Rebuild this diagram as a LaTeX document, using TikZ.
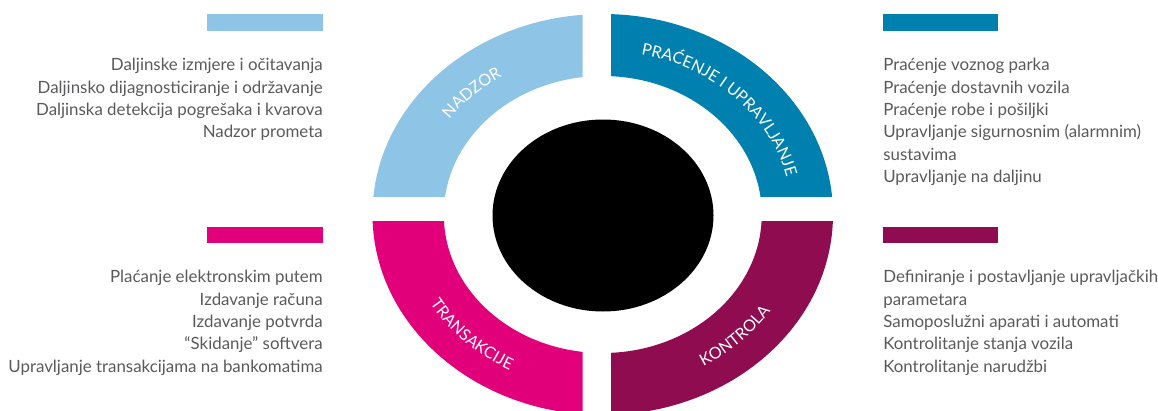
\documentclass[tikz,border=0pt]{standalone}
\usepackage{fontspec}
\setmainfont{Lato}
\usepackage{tikz}
\usetikzlibrary{decorations.text}
\definecolor{nadzorcolour}{HTML}{8EC5E6}
\definecolor{pracenjecolour}{HTML}{0080AF}
\definecolor{transakcijecolour}{HTML}{E2007A}
\definecolor{kontrolacolour}{HTML}{8E0C4F}
\definecolor{listcolour}{HTML}{5A5A5C}
% ring geometry (picture units = pixels)
\newcommand\ringx{602.75}
\newcommand\ringy{195.5}
\newcommand\outrx{230.25}
\newcommand\outry{200.5}
\newcommand\inrx{159}
\newcommand\inry{138.5}
\newcommand\gapleft{582.7}
\newcommand\gapright{611}
\newcommand\gapbottom{188.5}
\newcommand\gaptop{214}
\newcommand\listsep{22.4}
\newcommand\listfont{\fontsize{12}{14}\selectfont}
\newcommand\arcfont{\fontsize{11.5}{14}\selectfont}
\newcommand\quadrant[5]{%
  \begin{scope}
    \clip (#2,#3) rectangle (#4,#5);
    \fill[#1, even odd rule] (\ringx,\ringy) ellipse [x radius=\outrx, y radius=\outry]
      (\ringx,\ringy) ellipse [x radius=\inrx, y radius=\inry];
  \end{scope}}
\newcommand\arctext[5]{%
  \path[decorate, decoration={text along path, text align=center, text color=white,
      text={|\arcfont|#1}}]
    (\ringx,\ringy) ++(#2:#4 and #5) arc[start angle=#2, end angle=#3, x radius=#4, y radius=#5];}
\tikzset{
  listline/.style={font=\listfont, text=listcolour, inner sep=0pt, outer sep=0pt},
  legendbar/.style={inner sep=0pt, outer sep=0pt}
}

\begin{document}
\begin{tikzpicture}[x=0.025cm,y=0.025cm]
  \useasboundingbox (0,0) rectangle (1158,410);
  \clip (0,0) rectangle (1158,410);
  % ring quadrants
  \quadrant{nadzorcolour}{0}{\gaptop}{\gapleft}{410}
  \quadrant{pracenjecolour}{\gapright}{\gaptop}{1158}{410}
  \quadrant{transakcijecolour}{0}{0}{\gapleft}{\gapbottom}
  \quadrant{kontrolacolour}{\gapright}{0}{1158}{\gapbottom}
  % centre
  \fill (603,194.5) ellipse [x radius=110.5, y radius=96];
  % quadrant titles
  \arctext{NADZOR}{178}{92}{188.6}{163.5}
  \arctext{PRAĆENJE I UPRAVLJANJE}{88}{2}{188.6}{163.5}
  \arctext{TRANSAKCIJE}{182}{268}{200.6}{175.5}
  \arctext{KONTROLA}{272}{358}{200.6}{175.5}
  % legend bars
  \fill[nadzorcolour] (207,379.3) rectangle (322.7,396);
  \fill[pracenjecolour] (882.7,379.3) rectangle (998.3,396);
  \fill[transakcijecolour] (207,167) rectangle (322.7,183);
  \fill[kontrolacolour] (882.7,167) rectangle (998.3,183);
  % lists
  \foreach \txt [count=\i from 0] in {Daljinske izmjere i očitavanja,
      Daljinsko dijagnosticiranje i održavanje,
      Daljinska detekcija pogrešaka i kvarova, Nadzor prometa}
    \node[listline, anchor=base east] (nadzor-\i) at (322.7,{339.3-\i*\listsep}) {\txt};
  \foreach \txt [count=\i from 0] in {Praćenje voznog parka, Praćenje dostavnih vozila,
      Praćenje robe i pošiljki, Upravljanje sigurnosnim (alarmnim), sustavima,
      Upravljanje na daljinu}
    \node[listline, anchor=base west] (pracenje-\i) at (883.3,{339.3-\i*\listsep}) {\txt};
  \foreach \txt [count=\i from 0] in {Plaćanje elektronskim putem, Izdavanje računa,
      Izdavanje potvrda, “Skidanje” softvera,
      Upravljanje transakcijama na bankomatima}
    \node[listline, anchor=base east] (transakcije-\i) at (322.7,{127.3-\i*\listsep}) {\txt};
  \foreach \txt [count=\i from 0] in {Definiranje i postavljanje upravljačkih, parametara,
      Samoposlužni aparati i automati, Kontrolitanje stanja vozila,
      Kontrolitanje narudžbi}
    \node[listline, anchor=base west] (kontrola-\i) at (883.3,{127.3-\i*\listsep}) {\txt};
\end{tikzpicture}
\end{document}
